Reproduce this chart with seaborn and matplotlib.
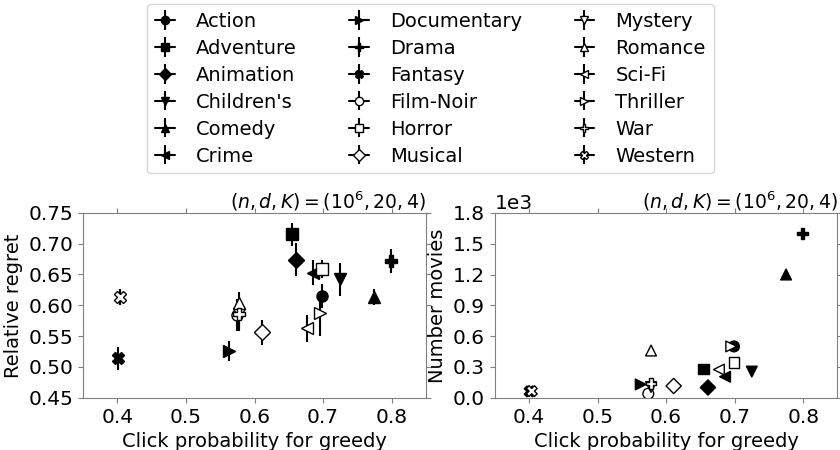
import numpy as np
import pandas as pd
import matplotlib
matplotlib.use('Agg')
import matplotlib.pyplot as plt
import seaborn as sns

# generos e marcadores
generos = ['Action', 'Adventure', 'Animation', "Children's", 'Comedy', 'Crime',
           'Documentary', 'Drama', 'Fantasy', 'Film-Noir', 'Horror', 'Musical',
           'Mystery', 'Romance', 'Sci-Fi', 'Thriller', 'War', 'Western']
marcadores = ['o', 's', 'D', 'v', '^', '<', '>', 'P', 'X',
              'o', 's', 'D', 'v', '^', '<', '>', 'P', 'X']
preenchido = [True] * 9 + [False] * 9

# valores
click_prob = [0.699, 0.655, 0.661, 0.725, 0.775, 0.686, 0.563, 0.799, 0.401,
              0.574, 0.699, 0.611, 0.578, 0.578, 0.677, 0.695, 0.578, 0.404]
regret = [0.615, 0.715, 0.674, 0.642, 0.614, 0.653, 0.526, 0.672, 0.514,
          0.585, 0.659, 0.556, 0.586, 0.604, 0.563, 0.587, 0.586, 0.613]
regret_err = [0.020, 0.019, 0.027, 0.027, 0.013, 0.020, 0.016, 0.020, 0.019,
              0.026, 0.015, 0.020, 0.025, 0.018, 0.022, 0.037, 0.028, 0.013]
n_filmes = [500, 280, 100, 255, 1200, 205, 130, 1600, 62,
            40, 340, 115, 105, 460, 275, 500, 140, 65]

dados = pd.DataFrame({'genero': generos, 'p': click_prob, 'regret': regret,
                      'err': regret_err, 'n': n_filmes})

sns.set_style('ticks', {'axes.edgecolor': '0.5', 'xtick.color': '0.5', 'ytick.color': '0.5',
                        'text.color': 'black', 'axes.labelcolor': 'black'})
plt.rcParams['font.family'] = ['DejaVu Sans']
plt.rcParams['font.size'] = 14
plt.rcParams['xtick.labelsize'] = 14.5
plt.rcParams['ytick.labelsize'] = 14.5
plt.rcParams['xtick.labelcolor'] = 'black'
plt.rcParams['ytick.labelcolor'] = 'black'

fig = plt.figure(figsize=(8.4, 4.5), dpi=100)
ax1 = fig.add_axes([0.099, 0.116, 0.408, 0.411])
ax2 = fig.add_axes([0.589, 0.116, 0.408, 0.411])

titulo = r'$(n,d,K)=(10^6,20,4)$'

#Grafico da esquerda: regret relativo com barras de erro
handles = []
for i, row in dados.iterrows():
    fc = 'black' if preenchido[i] else 'white'
    h = ax1.errorbar(row['p'], row['regret'], yerr=row['err'], marker=marcadores[i],
                     color='black', mfc=fc, mec='black', ms=8, lw=1.5, label=row['genero'])
    handles.append(h)
ax1.set_xlim(0.35, 0.85)
ax1.set_ylim(0.45, 0.75)
ax1.set_xticks([0.4, 0.5, 0.6, 0.7, 0.8])
ax1.set_yticks(np.arange(0.45, 0.751, 0.05))
ax1.set_xlabel('Click probability for greedy')
ax1.set_ylabel('Relative regret')
ax1.set_title(titulo, loc='right', pad=3, fontsize=13.5)

#Grafico da direita: numero de filmes
paleta = {g: ('black' if f else 'white') for g, f in zip(generos, preenchido)}
estilos = {g: m for g, m in zip(generos, marcadores)}
sns.scatterplot(data=dados, x='p', y='n', hue='genero', style='genero', palette=paleta,
                markers=estilos, edgecolor='black', linewidth=1.0, s=60, legend=False, ax=ax2)
ax2.set_xlim(0.35, 0.85)
ax2.set_ylim(0, 1800)
ax2.set_xticks([0.4, 0.5, 0.6, 0.7, 0.8])
ax2.set_yticks(np.arange(0, 1801, 300))
ax2.ticklabel_format(axis='y', style='sci', scilimits=(3, 3))
ax2.yaxis.get_offset_text().set_fontsize(14.5)
ax2.set_xlabel('Click probability for greedy')
ax2.set_ylabel('Number movies')
ax2.set_title(titulo, loc='right', pad=3, fontsize=13.5)

for ax in (ax1, ax2):
    ax.tick_params(top=True, right=True, direction='out')

fig.legend(handles=handles, labels=generos, ncol=3, loc='upper center',
           bbox_to_anchor=(0.5125, 1.0), handlelength=1.0, columnspacing=2.7,
           labelspacing=0.41, handletextpad=1.1, borderaxespad=0.2,
           fontsize=14, markerscale=0.75)

fig.savefig('out.png', dpi=100)
